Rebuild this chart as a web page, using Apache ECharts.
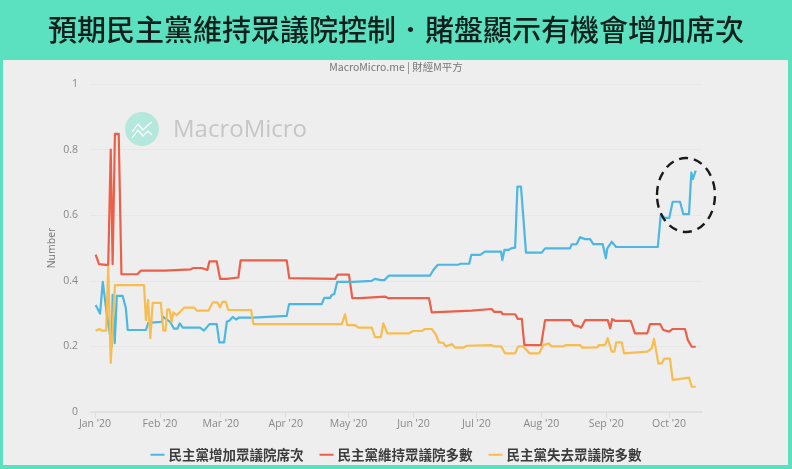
<!DOCTYPE html>
<html><head><meta charset="utf-8">
<style>html,body{margin:0;padding:0;background:#5be0c0}#c{width:792px;height:469px}</style>
<script src="https://cdn.jsdelivr.net/npm/echarts@6/dist/echarts.min.js"></script>
</head><body><div id="c"></div>
<script>
const titleText = '預期民主黨維持眾議院控制．賭盤顯示有機會增加席次';
const sourceText = 'MacroMicro.me | 財經M平方';
const seriesNames = ['民主黨增加眾議院席次','民主黨維持眾議院多數','民主黨失去眾議院多數'];
const yTicks = [0,0.2,0.4,0.6,0.8,1];
// days since 1 Jan 2020, and the value read on that day
const blueDays = [0.3,2.4,3.7,4.3,5.6,8,8.4,9.4,10.4,13.2,14.7,15.6,24.3,25.4,31.8,32.5,35.8,37.7,39.3,40.4,41.9,50.1,52,54.6,58.1,59.3,61.6,62.9,64.4,65.7,67.3,68.7,75.6,76.4,91.5,92.6,108.2,109.4,112.2,113,114.2,115.6,123.3,132.1,133.6,136.4,138.1,140.3,159.9,161.5,163.6,173.3,174.5,178.6,179.6,183.8,186.1,193.8,194.4,195.4,197.3,198.6,200.5,201.6,203.3,205.7,213.2,214.8,226.7,227.5,229.9,231.5,233.9,236.3,237.8,242.3,243.8,244.5,246.6,248.7,268.6,270,272.1,274.1,275.7,279.2,280.8,283.5,284.6,285.3,286.7];
const blueValues = [.326,.30,.397,.398,.30,.2,.357,.21,.354,.354,.317,.25,.25,.272,.275,.29,.275,.254,.254,.27,.257,.257,.248,.268,.268,.212,.212,.275,.28,.29,.282,.288,.288,.293,.293,.329,.329,.348,.348,.357,.36,.397,.397,.40,.406,.402,.402,.416,.416,.433,.449,.449,.452,.452,.479,.479,.489,.489,.463,.494,.494,.499,.501,.687,.687,.486,.486,.499,.499,.511,.512,.533,.527,.527,.512,.512,.469,.499,.519,.503,.503,.60,.592,.592,.641,.641,.603,.603,.73,.71,.736];
const redDays = [.3,1.9,6.3,7.5,8.4,9.5,11.3,12.6,20.2,21.8,33.4,34.2,45.7,46.9,50.9,51.7,53.6,54.6,58.1,59.7,62.9,63.6,68.4,69.5,91.5,92.7,114.6,115.8,121.2,122.8,126.5,127.3,138.4,140,159.4,160.7,161.5,179.8,180.6,189.3,190.6,193.8,194.6,200.5,201.8,203.7,204.9,212.9,214.8,227.2,228.6,230.7,232,232.8,233.9,244.7,245.9,246.8,248.2,255.7,257.7,263.6,264.9,269.7,271.2,274.1,275.6,281.6,282.9,284.8,286.7];
const redValues = [.48,.451,.448,.80,.451,.848,.848,.42,.42,.431,.431,.435,.435,.439,.439,.433,.433,.459,.459,.406,.406,.41,.41,.462,.462,.408,.406,.419,.419,.347,.347,.351,.352,.347,.347,.304,.309,.309,.314,.314,.305,.305,.298,.298,.284,.284,.204,.204,.28,.28,.264,.262,.257,.257,.28,.28,.255,.283,.278,.278,.24,.24,.268,.268,.25,.245,.253,.253,.22,.199,.199];
const yellowDays = [.3,2.1,3.2,5.3,6.3,7.5,8.3,9.5,23.4,24.3,25.3,26.4,27.5,31.4,32.6,33.6,34.5,35.5,36.6,37.4,39,42.5,47.4,48.5,54.1,56.2,58.4,59.7,60.8,62.4,63.6,74.5,75.6,117.8,119.3,120.4,124.1,125.7,132.1,133.6,136.4,137.6,138.4,139.5,150,151.7,156,157.5,160.7,162.6,164.2,166.2,167.5,170.5,171.8,175.8,177.4,189.3,190.4,193.8,195.7,200.5,202,204.4,205.2,207.3,212,214,216.4,218,223.5,224.8,231.5,232.6,239.5,240.6,243.4,244.7,245.5,246.6,247.9,248.7,251.4,252.5,253.3,263.6,265.7,266.8,267.6,268.9,270.5,271.7,274.4,275.7,278.4,283.5,284.8,286.7];
const yellowValues = [.248,.253,.248,.248,.443,.15,.15,.387,.387,.28,.341,.225,.333,.333,.248,.248,.313,.313,.275,.304,.295,.318,.318,.309,.309,.334,.334,.319,.336,.336,.311,.311,.268,.268,.298,.265,.265,.257,.257,.228,.228,.27,.27,.24,.24,.247,.247,.253,.253,.237,.212,.211,.2,.207,.196,.196,.202,.204,.2,.2,.179,.179,.2,.2,.2,.179,.179,.204,.209,.2,.2,.204,.204,.196,.197,.204,.204,.225,.225,.184,.184,.212,.212,.179,.184,.184,.194,.223,.223,.148,.148,.163,.163,.098,.1,.105,.077,.077];

const T0 = Date.UTC(2020,0,1), DAY = 864e5;
const toPairs = (d,v) => d.map((x,i)=>[T0+x*DAY, v[i]]);
const seriesData = [toPairs(blueDays,blueValues),toPairs(redDays,redValues),toPairs(yellowDays,yellowValues)];
const colors = ['#4db7e3','#ec5f49','#f8bd4f'];
const CJK = '"Noto Sans CJK TC","Noto Sans",sans-serif';
const MON = ['Jan','Feb','Mar','Apr','May','Jun','Jul','Aug','Sep','Oct','Nov','Dec'];

const chart = echarts.init(document.getElementById('c'),null,{renderer:'canvas'});
chart.setOption({
  animation:false,
  backgroundColor:'#5be0c0',
  title:[
    {text:titleText,left:'center',top:10,textStyle:{fontFamily:CJK,fontSize:29,fontWeight:500,color:'#10201c'}},
    {text:sourceText,left:'center',top:57,textStyle:{fontFamily:CJK,fontSize:10.5,fontWeight:400,color:'#777'}}
  ],
  graphic:[
    {type:'rect',z:-10,silent:true,shape:{x:3,y:60,width:785,height:405},style:{fill:'#eeeeee'}},
    {type:'circle',z:0,silent:true,shape:{cx:142,cy:129,r:17},style:{fill:'#b5e8dc'}},
    {type:'polyline',z:0,silent:true,shape:{points:[[132,132],[138,124],[143,130],[148,125],[152,122]]},style:{stroke:'#fff',lineWidth:1.2,fill:null}},
    {type:'polyline',z:0,silent:true,shape:{points:[[132,138],[138,130],[143,136],[148,131],[152,135]]},style:{stroke:'#fff',lineWidth:1.2,fill:null}},
    {type:'text',z:0,silent:true,style:{x:173,y:130,text:'MacroMicro',fill:'#c6c6c6',font:'24px "Open Sans",sans-serif',textVerticalAlign:'middle',verticalAlign:'middle'}},
    {type:'ellipse',z:50,silent:true,shape:{cx:686,cy:195,rx:29,ry:37},style:{fill:null,stroke:'#1a1a1a',lineWidth:2.4,lineDash:[9,6]}}
  ],
  grid:{left:90,right:90,top:84,bottom:57,containLabel:false},
  legend:{
    data:seriesNames,left:'center',top:443,itemWidth:14,itemHeight:2,itemGap:16,icon:'rect',
    textStyle:{fontFamily:CJK,fontSize:13.5,fontWeight:700,color:'#3c3c3c',padding:[0,0,0,-1]}
  },
  xAxis:{
    type:'time',
    min:T0-2.4*DAY,max:T0+289.7*DAY,
    minInterval:28*DAY,maxInterval:31*DAY,
    axisLine:{show:true,lineStyle:{color:'#dedede',width:1.5}},
    axisTick:{show:true,length:6,lineStyle:{color:'#dedede'}},
    splitLine:{show:false},
    axisLabel:{
      showMinLabel:false,showMaxLabel:false,margin:7,color:'#888',fontSize:10.5,fontFamily:'"Open Sans",sans-serif',
      formatter:v=>{const d=new Date(v);return d.getUTCDate()===1?MON[d.getUTCMonth()]+" '20":''}
    }
  },
  yAxis:{
    type:'value',min:0,max:1,interval:0.2,
    name:'Number',nameLocation:'middle',nameGap:32,nameRotate:90,nameMoveOverlap:false,
    nameTextStyle:{color:'#777',fontSize:10.5,fontFamily:'"Open Sans",sans-serif'},
    axisLine:{show:false},axisTick:{show:false},
    splitLine:{lineStyle:{color:'#e7e7e7',width:1}},
    axisLabel:{color:'#888',fontSize:10.5,margin:12,fontFamily:'"Open Sans",sans-serif',formatter:v=>yTicks.includes(+v.toFixed(1))?String(+v.toFixed(1)):''}
  },
  series:seriesNames.map((n,i)=>({
    name:n,type:'line',data:seriesData[i],showSymbol:false,symbol:'none',smooth:false,z:[4,3,5][i],
    lineStyle:{color:colors[i],width:2.2,join:'round'},itemStyle:{color:colors[i]}
  }))
});
</script></body></html>
